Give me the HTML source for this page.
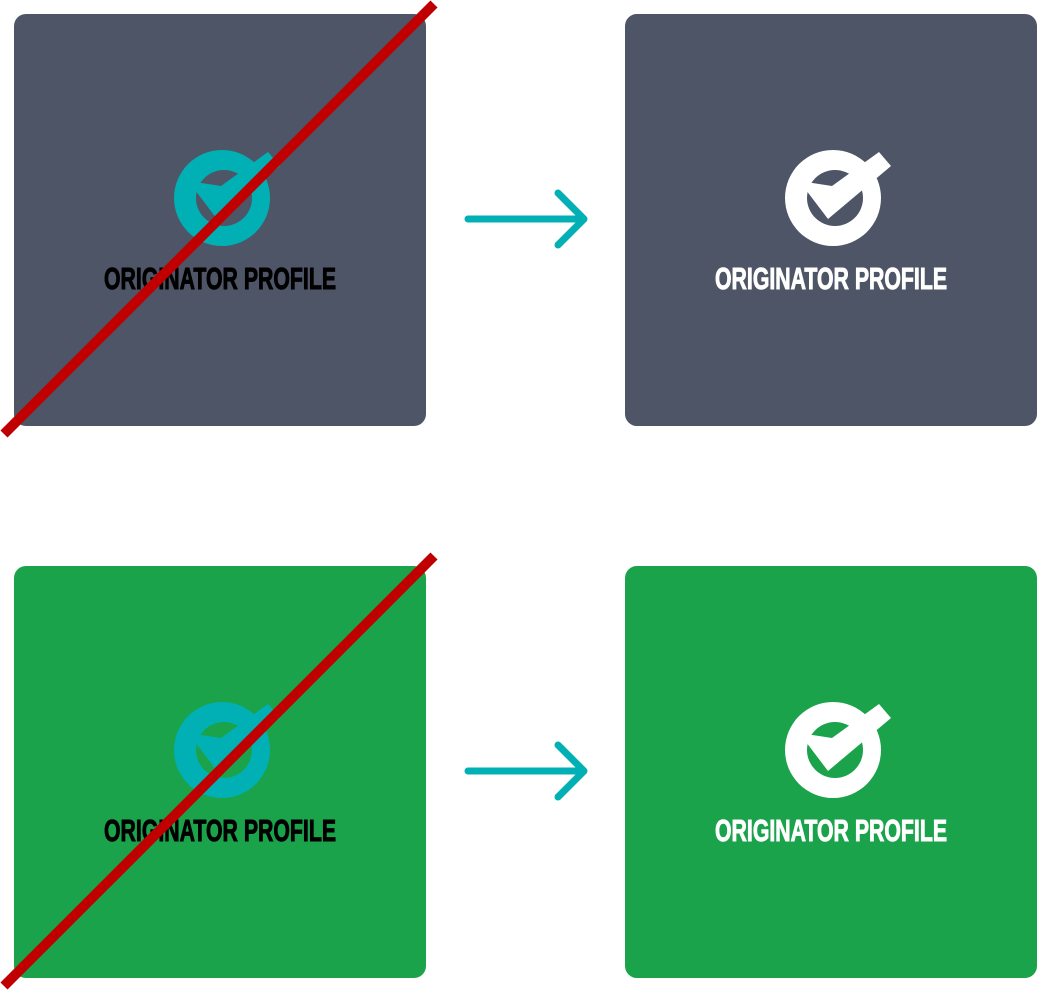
<!DOCTYPE html>
<html><head><meta charset="utf-8"><style>
html,body{margin:0;padding:0;background:#fff;}
svg{display:block;}
</style></head><body>
<svg width="1051" height="992" viewBox="0 0 1051 992" xmlns="http://www.w3.org/2000/svg">
<defs>
<g id="ck">
<path fill-rule="evenodd" d="M0,-48 A48,48 0 1,1 0,48 A48,48 0 1,1 0,-48 Z M2,-28 A28,28 0 1,0 2,28 A28,28 0 1,0 2,-28 Z"/>
<polygon points="46,-46 58,-32 -5,21 -27,-8 -27,-16 -1,-12"/>
</g>
</defs>
<rect x="14" y="14" width="412" height="412" rx="12" fill="#4d5566"/>
<rect x="625" y="14" width="412" height="412" rx="12" fill="#4d5566"/>
<rect x="14" y="566" width="412" height="412" rx="12" fill="#1aa34a"/>
<rect x="625" y="566" width="412" height="412" rx="12" fill="#1aa34a"/>

<use href="#ck" x="222" y="198" fill="#00b0b4"/>
<use href="#ck" x="833" y="198" fill="#ffffff"/>
<use href="#ck" x="222" y="750" fill="#00b0b4"/>
<use href="#ck" x="833" y="750" fill="#ffffff"/>

<g font-family="'Liberation Sans Narrow','Liberation Sans',sans-serif" font-weight="bold" font-size="31" stroke-width="1">
<text x="104" y="289" textLength="232" lengthAdjust="spacingAndGlyphs" fill="#000" stroke="#000">ORIGINATOR PROFILE</text>
<text x="715" y="289" textLength="232" lengthAdjust="spacingAndGlyphs" fill="#fff" stroke="#fff">ORIGINATOR PROFILE</text>
<text x="104" y="841" textLength="232" lengthAdjust="spacingAndGlyphs" fill="#000" stroke="#000">ORIGINATOR PROFILE</text>
<text x="715" y="841" textLength="232" lengthAdjust="spacingAndGlyphs" fill="#fff" stroke="#fff">ORIGINATOR PROFILE</text>
</g>

<g stroke="#00b0b4" stroke-width="7" stroke-linecap="round" stroke-linejoin="round" fill="none">
<path d="M468,219 H584 M558,193 L584,219 L558,245"/>
<path d="M468,771 H584 M558,745 L584,771 L558,797"/>
</g>

<g stroke="#c00000" stroke-width="10">
<line x1="4" y1="434" x2="434" y2="4"/>
<line x1="4" y1="986" x2="434" y2="556"/>
</g>
</svg>
</body></html>
